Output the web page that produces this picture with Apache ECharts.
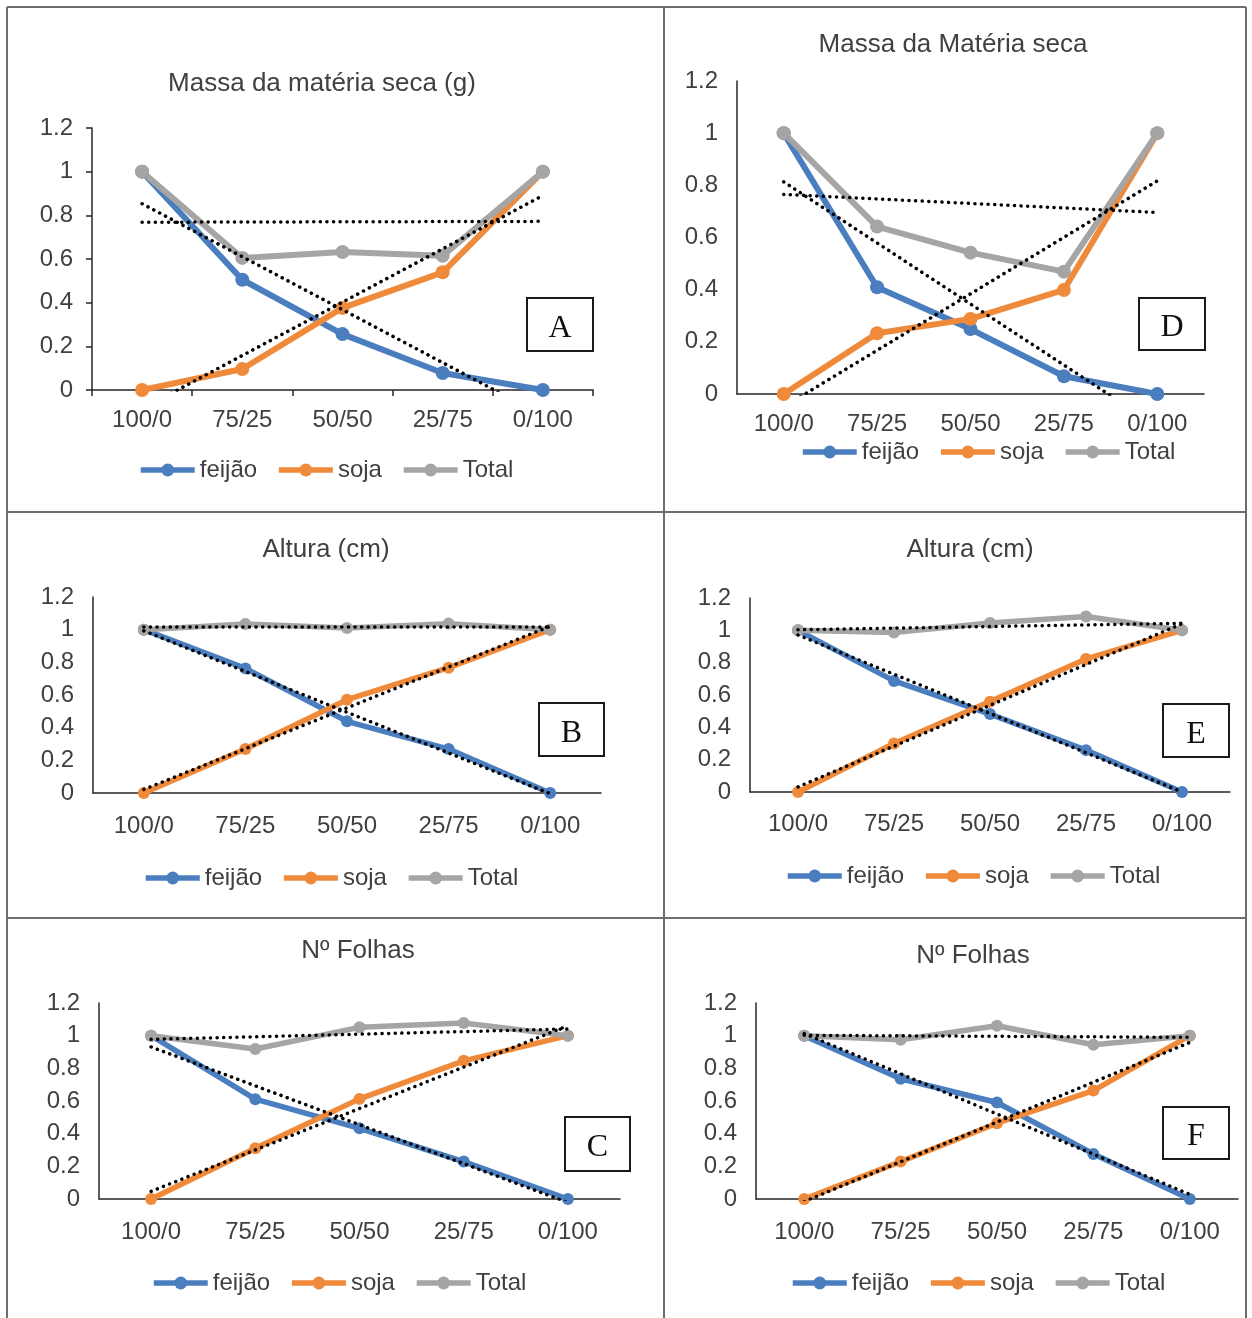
<!DOCTYPE html>
<html>
<head>
<meta charset="utf-8">
<script src="https://cdn.jsdelivr.net/npm/echarts@6/dist/echarts.min.js"></script>
<style>
html,body{margin:0;padding:0;background:#fff;}
#chart{width:1252px;height:1318px;}
</style>
</head>
<body>
<div id="chart"></div>
<script>
// ---- data ----
const categories = ['100/0', '75/25', '50/50', '25/75', '0/100'];
const seriesNames = ['feijão', 'soja', 'Total'];
const yTicks = [0, 0.2, 0.4, 0.6, 0.8, 1, 1.2];

const titles = ['Massa da matéria seca (g)', 'Massa da Matéria seca', 'Altura (cm)', 'Altura (cm)', 'Nº Folhas', 'Nº Folhas'];
const letters = ['A', 'D', 'B', 'E', 'C', 'F'];

const feijaoA = [1, 0.505, 0.256, 0.078, 0];
const sojaA   = [0, 0.096, 0.376, 0.539, 1];
const totalA  = [1, 0.605, 0.632, 0.615, 1];

const feijaoD = [1, 0.409, 0.249, 0.068, 0];
const sojaD   = [0, 0.233, 0.288, 0.399, 1];
const totalD  = [1, 0.642, 0.542, 0.469, 1];

const feijaoB = [1, 0.763, 0.439, 0.269, 0];
const sojaB   = [0, 0.269, 0.571, 0.767, 1];
const totalB  = [1, 1.035, 1.01, 1.037, 1];

const feijaoE = [1, 0.687, 0.482, 0.259, 0];
const sojaE   = [0, 0.300, 0.559, 0.823, 1];
const totalE  = [1, 0.987, 1.045, 1.086, 1];

const feijaoC = [1, 0.611, 0.433, 0.229, 0];
const sojaC   = [0, 0.311, 0.613, 0.846, 1];
const totalC  = [1, 0.918, 1.051, 1.077, 1];

const feijaoF = [1, 0.736, 0.591, 0.276, 0];
const sojaF   = [0, 0.229, 0.464, 0.664, 1];
const totalF  = [1, 0.975, 1.061, 0.944, 1];

const panelData = [
  [feijaoA, sojaA, totalA],
  [feijaoD, sojaD, totalD],
  [feijaoB, sojaB, totalB],
  [feijaoE, sojaE, totalE],
  [feijaoC, sojaC, totalC],
  [feijaoF, sojaF, totalF]
];

// ---- layout / style ----
const colors = ['#4a7ebf', '#f08a3b', '#a5a5a5'];
const FONT = '"Liberation Sans", Arial, sans-serif';
const TXT = '#404040';

const layout = [
  {grid:[92,128,501,262], title:[322,84], legend:[138,470], box:[527,298,66,53], xm:18, ym:19, ticks:true, sym:14, lw:6},
  {grid:[737,81,467,313], title:[953,45], legend:[800,452], box:[1139,298,66,52], xm:18, ym:19, ticks:false, sym:14, lw:6},
  {grid:[93,597,508,196], title:[326,550], legend:[143,878], box:[539,703,65,53], xm:21, ym:19, ticks:false, sym:12, lw:5.5},
  {grid:[750,598,480,194], title:[970,550], legend:[785,876], box:[1163,704,66,53], xm:20, ym:19, ticks:false, sym:12, lw:5.5},
  {grid:[99,1003,521,196], title:[358,951], legend:[151,1283], box:[565,1117,65,54], xm:21, ym:19, ticks:false, sym:12, lw:5.5},
  {grid:[756,1003,482,196], title:[973,956], legend:[790,1283], box:[1163,1107,66,52], xm:21, ym:19, ticks:false, sym:12, lw:5.5}
];

// least-squares linear trend (as in the original spreadsheet trendlines)
function trend(vals) {
  const n = vals.length;
  let sx = 0, sy = 0, sxy = 0, sxx = 0;
  vals.forEach((v, i) => { sx += i; sy += v; sxy += i * v; sxx += i * i; });
  const b = (n * sxy - sx * sy) / (n * sxx - sx * sx);
  const a = (sy - b * sx) / n;
  return [[0, a], [n - 1, a + b * (n - 1)]];
}

const grids = [], xAxes = [], yAxes = [], series = [], titleOpts = [], legends = [], graphics = [];

layout.forEach((L, p) => {
  const [gx, gy, gw, gh] = L.grid;
  grids.push({left: gx, top: gy, width: gw, height: gh, containLabel: false});
  xAxes.push({
    type: 'category', gridIndex: p, data: categories, boundaryGap: true,
    axisLine: {show: true, lineStyle: {color: '#262626', width: 1.5}},
    axisTick: {show: L.ticks, length: 6, lineStyle: {color: '#262626', width: 1.5}},
    axisLabel: {margin: L.xm, fontFamily: FONT, fontSize: 24, color: TXT},
    splitLine: {show: false}
  });
  yAxes.push({
    type: 'value', gridIndex: p, min: yTicks[0], max: yTicks[yTicks.length - 1], interval: 0.2,
    axisLine: {show: true, lineStyle: {color: '#262626', width: 1.5}},
    axisTick: {show: L.ticks, length: 6, lineStyle: {color: '#262626', width: 1.5}},
    axisLabel: {margin: L.ym, fontFamily: FONT, fontSize: 24, color: TXT},
    splitLine: {show: false}
  });
  titleOpts.push({
    text: titles[p], left: L.title[0], top: L.title[1], padding: 0,
    textAlign: 'center', textVerticalAlign: 'middle',
    textStyle: {fontFamily: FONT, fontSize: 26, fontWeight: 'normal', color: TXT}
  });
  legends.push({
    data: seriesNames, left: L.legend[0], top: L.legend[1] - 13, padding: 0,
    itemWidth: 54, itemHeight: 16, itemGap: 19, selectedMode: false,
    lineStyle: {width: 5.5},
    textStyle: {fontFamily: FONT, fontSize: 24, color: TXT, lineHeight: 26}
  });
  panelData[p].forEach((vals, k) => {
    series.push({
      name: seriesNames[k], type: 'line', xAxisIndex: p, yAxisIndex: p,
      data: vals, symbol: 'circle', symbolSize: L.sym, smooth: false,
      lineStyle: {color: colors[k], width: L.lw},
      itemStyle: {color: colors[k]},
      emphasis: {disabled: true}, z: 2
    });
  });
  panelData[p].forEach((vals, k) => {
    series.push({
      name: 'trend ' + seriesNames[k], type: 'line', xAxisIndex: p, yAxisIndex: p,
      data: trend(vals), symbol: 'none', clip: true,
      lineStyle: {color: '#000', width: 3.5, type: [0.1, 6.5], cap: 'round'},
      emphasis: {disabled: true}, z: 3, silent: true
    });
  });
  const [bx, by, bw, bh] = L.box;
  graphics.push({
    type: 'rect', shape: {x: bx, y: by, width: bw, height: bh},
    style: {fill: '#fff', stroke: '#1a1a1a', lineWidth: 2}, z: 100
  });
  graphics.push({
    type: 'text', x: bx + bw / 2, y: by + bh / 2 + 4,
    style: {text: letters[p], font: '32px "Liberation Serif", "Times New Roman", serif', fill: '#111', align: 'center', verticalAlign: 'middle'},
    z: 101
  });
});

// panel frame lines
const frame = '#6e6e6e';
[[7, 7, 1246, 7], [7, 7, 7, 1318], [1246, 7, 1246, 1318], [664, 7, 664, 1318], [7, 512, 1246, 512], [7, 918, 1246, 918]]
  .forEach(s => graphics.push({type: 'line', shape: {x1: s[0], y1: s[1], x2: s[2], y2: s[3]}, style: {stroke: frame, lineWidth: 2}, z: 50}));

const chart = echarts.init(document.getElementById('chart'), null, {renderer: 'canvas'});
chart.setOption({
  animation: false,
  backgroundColor: '#fff',
  title: titleOpts,
  legend: legends,
  grid: grids,
  xAxis: xAxes,
  yAxis: yAxes,
  series: series,
  graphic: graphics
});
</script>
</body>
</html>
